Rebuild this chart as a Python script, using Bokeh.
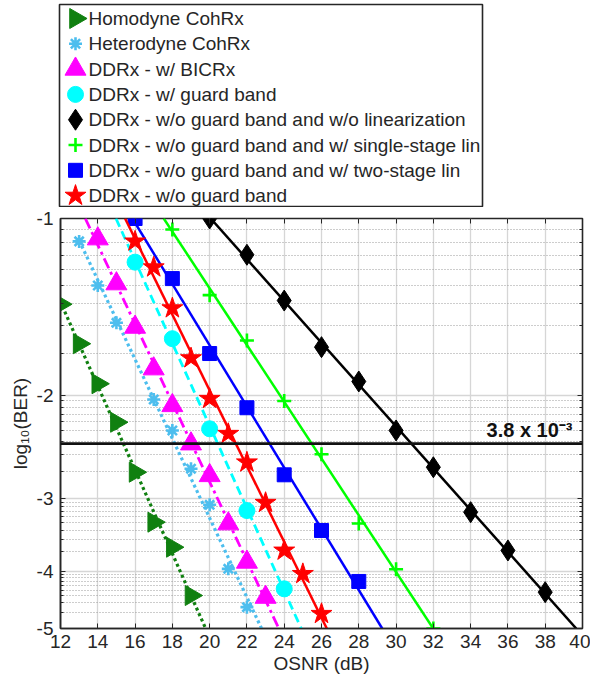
import numpy as np
from bokeh.plotting import figure
from bokeh.layouts import column
from bokeh.models import (Range1d, FixedTicker, LinearAxis, LogAxis, Span, Label)
from bokeh.core.properties import value
from bokeh.embed import file_html
from bokeh.resources import INLINE

# ---------------- data (OSNR in dB, log10(BER)) ----------------
osnr_homodyne = [12, 13, 14, 15, 16, 17, 18, 19]
logber_homodyne = [-1.40, -1.635, -1.913, -2.225, -2.707, -3.294, -3.634, -4.393]

osnr_heterodyne = [13, 14, 15, 17, 18, 19, 20, 21, 22]
logber_heterodyne = [-1.094, -1.301, -1.506, -2.035, -2.298, -2.671, -3.077, -3.956, -4.598]

osnr_bicrx = [14, 15, 16, 17, 18, 19, 20, 21, 22, 23]
logber_bicrx = [-1.083, -1.292, -1.532, -1.804, -2.084, -2.422, -2.743, -3.315, -3.853, -4.422]

osnr_guard = [16, 18, 20, 22, 24]
logber_guard = [-1.187, -1.603, -2.283, -3.147, -4.279]

osnr_nolin = [20, 22, 24, 26, 28, 30, 32, 34, 36, 38]
logber_nolin = [-1.0, -1.153, -1.380, -1.657, -1.896, -2.298, -2.655, -3.167, -3.681, -4.336]

osnr_single = [18, 20, 22, 24, 26, 28, 30, 32]
logber_single = [-1.044, -1.351, -1.614, -2.047, -2.523, -3.311, -3.963, -5.0]

osnr_two = [16, 18, 20, 22, 24, 26, 28]
logber_two = [-1.0, -1.266, -1.699, -2.102, -2.735, -3.403, -4.157]

osnr_noguard = [16, 17, 18, 19, 20, 21, 22, 23, 24, 25, 26]
logber_noguard = [-1.094, -1.211, -1.422, -1.730, -2.029, -2.328, -2.604, -3.052, -3.681, -4.035, -4.72]

labels = ["Homodyne CohRx", "Heterodyne CohRx", "DDRx - w/ BICRx", "DDRx - w/ guard band",
          "DDRx - w/o guard band and w/o linearization",
          "DDRx - w/o guard band and w/ single-stage lin",
          "DDRx - w/o guard band and w/ two-stage lin",
          "DDRx - w/o guard band"]

x_ticks = [12, 14, 16, 18, 20, 22, 24, 26, 28, 30, 32, 34, 36, 38, 40]
y_ticks = [1, 2, 3, 4, 5]            # -log10(BER)
y_tick_labels = ["-1", "-2", "-3", "-4", "-5"]
minor_mult = [2, 3, 4, 5, 6, 7, 8, 9]  # BER minor grid multiples
threshold_ber = 3.8e-3
threshold_text = "3.8 x 10\u207b\u00b3"

# ---------------- styles ----------------
TXT = "#262626"
FONT = "Liberation Sans"
series = [
    dict(x=osnr_homodyne, y=logber_homodyne, marker="triangle", color="#108010", size=20,
         angle=-np.pi / 2, dash="3 3", lw=3.2, extend_top=True),
    dict(x=osnr_heterodyne, y=logber_heterodyne, marker="asterisk", color="#4dbeee", size=13,
         angle=0, dash="3 3", lw=3.2, extend_top=False),
    dict(x=osnr_bicrx, y=logber_bicrx, marker="triangle", color="#ff00ff", size=21,
         angle=0, dash="11 4 3 4", lw=2.8, extend_top=True),
    dict(x=osnr_guard, y=logber_guard, marker="circle", color="#00ffff", size=16,
         angle=0, dash="9 5", lw=2.8, extend_top=True),
    dict(x=osnr_nolin, y=logber_nolin, marker="diamond", color="#000000", size=21,
         angle=0, dash="solid", lw=2.5, extend_top=True),
    dict(x=osnr_single, y=logber_single, marker="cross", color="#00ff00", size=14,
         angle=0, dash="solid", lw=2.5, extend_top=True),
    dict(x=osnr_two, y=logber_two, marker="square", color="#0000ff", size=14,
         angle=0, dash="solid", lw=2.5, extend_top=True),
    dict(x=osnr_noguard, y=logber_noguard, marker="star", color="#ff0000", size=22,
         angle=0, dash="solid", lw=2.5, extend_top=True),
]


def marker_kw(s):
    kw = dict(marker=s["marker"], size=s["size"], line_color=s["color"], angle=s["angle"])
    if s["marker"] in ("asterisk", "cross"):
        kw.update(line_width=2.6)
    else:
        kw.update(fill_color=s["color"], line_width=1)
    return kw


# ---------------- legend panel (own figure above the axes) ----------------
lg = figure(width=590, height=207, x_range=Range1d(0, 423), y_range=Range1d(8.43, 0.447),
            output_backend="svg", toolbar_location=None,
            x_axis_location=None, y_axis_location=None, frame_align=False,
            min_border_left=59, min_border_right=108, min_border_top=4, min_border_bottom=1)
lg.grid.visible = False
lg.outline_line_color = TXT
lg.outline_line_width = 1.6
lg.background_fill_color = "white"
lg.border_fill_color = "white"
rows = [i + 1 for i in range(len(labels))]
for s, row in zip(series, rows):
    lg.scatter([16], [row], **marker_kw(s))
lg.text(x=[29] * len(labels), y=rows, text=labels, text_font=value(FONT),
        text_font_size="19px", text_baseline="middle", text_align="left", text_color=TXT)

# ---------------- main axes ----------------
p = figure(width=590, height=478, x_range=Range1d(12, 40), y_range=Range1d(5, 1),
           y_axis_type="log", output_backend="svg", toolbar_location=None, frame_align=False,
           min_border_left=60, min_border_right=8, min_border_top=11, min_border_bottom=57)
p.background_fill_color = "white"
p.border_fill_color = "white"
p.outline_line_color = TXT
p.outline_line_width = 1.6

xt = FixedTicker(ticks=x_ticks)
minor_v = [n - np.log10(k) for n in [2, 3, 4, 5] for k in minor_mult]
yt = FixedTicker(ticks=y_ticks, minor_ticks=minor_v)

p.xaxis.ticker = xt
p.xgrid.ticker = xt
p.yaxis.ticker = yt
p.ygrid.ticker = yt
p.yaxis.major_label_overrides = {t: l for t, l in zip(y_ticks, y_tick_labels)}

for ax in (p.xaxis[0], p.yaxis[0]):
    ax.major_tick_in = 5
    ax.major_tick_out = 0
    ax.minor_tick_in = 3
    ax.minor_tick_out = 0
    ax.axis_line_color = TXT
    ax.axis_line_width = 1.5
    ax.major_tick_line_color = TXT
    ax.minor_tick_line_color = TXT
    ax.major_label_text_font = FONT
    ax.major_label_text_font_size = "19px"
    ax.major_label_text_color = TXT
    ax.axis_label_text_font = FONT
    ax.axis_label_text_font_size = "19px"
    ax.axis_label_text_font_style = "normal"
    ax.axis_label_text_color = TXT

p.xaxis.axis_label = "OSNR (dB)"
p.xaxis.major_label_standoff = 6
p.xaxis.axis_label_standoff = 2
p.yaxis.axis_label = "log\u2081\u2080(BER)"
p.yaxis.major_label_standoff = 7
p.yaxis.axis_label_standoff = 3

top = LinearAxis(ticker=xt, major_tick_in=5, major_tick_out=0, minor_tick_out=0,
                 axis_line_color=None, major_tick_line_color=TXT, major_label_standoff=0,
                 major_label_overrides={t: "" for t in x_ticks})
right = LogAxis(ticker=yt, major_tick_in=5, major_tick_out=0, minor_tick_in=3, minor_tick_out=0,
                axis_line_color=None, major_tick_line_color=TXT, minor_tick_line_color=TXT,
                major_label_standoff=0,
                major_label_overrides={t: "" for t in y_ticks})
p.add_layout(top, "above")
p.add_layout(right, "right")

p.xgrid.grid_line_color = "#d6d6d6"
p.xgrid.grid_line_width = 1.3
p.ygrid.grid_line_color = "#d6d6d6"
p.ygrid.grid_line_width = 1.3
p.ygrid.minor_grid_line_color = "#9a9a9a"
p.ygrid.minor_grid_line_dash = "1 2"
p.ygrid.minor_grid_line_width = 1

# threshold
thr_v = -np.log10(threshold_ber)
p.add_layout(Span(location=thr_v, dimension="width", line_color="#111111", line_width=2.6))
p.add_layout(Label(x=40, y=thr_v, text=threshold_text, text_align="right",
                   text_baseline="bottom", x_offset=-10, y_offset=3,
                   text_font=FONT, text_font_size="20px", text_font_style="bold",
                   text_color="#111111"))

for s in series:
    x = np.asarray(s["x"], float)
    v = -np.asarray(s["y"], float)
    b, a = np.polyfit(x, np.log10(v), 1)
    x_top = -a / b
    x_bot = (np.log10(5) - a) / b
    x0 = x_top if s["extend_top"] else x[0]
    lx = np.array([x0, x_bot])
    ly = 10 ** (a + b * lx)
    p.line(lx, ly, line_color=s["color"], line_width=s["lw"], line_dash=s["dash"])
    p.scatter(x, v, **marker_kw(s))

layout = column(lg, p, spacing=0)
open("out.html", "w").write(file_html(layout, INLINE))
